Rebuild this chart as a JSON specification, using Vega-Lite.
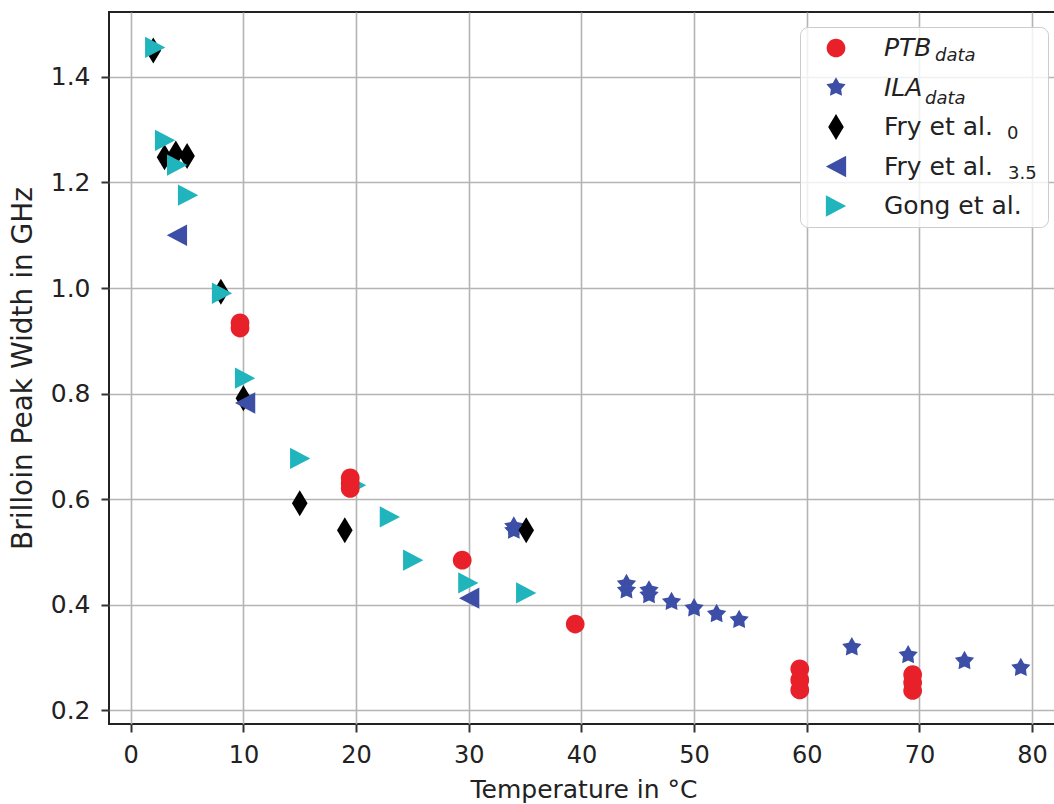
{
  "$schema": "https://vega.github.io/schema/vega-lite/v6.json",
  "width": 949,
  "height": 712,
  "autosize": {"type": "none"},
  "padding": {"left": 109, "top": 12, "right": 0, "bottom": 80},
  "background": "white",
  "config": {
    "font": "DejaVu Sans",
    "view": {"stroke": "#222222", "strokeWidth": 2},
    "axis": {
      "domain": false,
      "grid": true,
      "gridColor": "#b4b4b4",
      "gridWidth": 1.6,
      "tickColor": "#333333",
      "tickWidth": 2,
      "tickSize": 8,
      "labelFont": "DejaVu Sans",
      "labelColor": "#222222",
      "titleFont": "DejaVu Sans",
      "titleFontWeight": "normal",
      "titleColor": "#222222"
    }
  },
  "layer": [
    {
      "data": {
        "values": [
          {"series": "ILA", "T": 34, "W": 0.548},
          {"series": "ILA", "T": 34, "W": 0.540},
          {"series": "ILA", "T": 44, "W": 0.439},
          {"series": "ILA", "T": 44, "W": 0.427},
          {"series": "ILA", "T": 46, "W": 0.427},
          {"series": "ILA", "T": 46, "W": 0.418},
          {"series": "ILA", "T": 48, "W": 0.405},
          {"series": "ILA", "T": 50, "W": 0.393},
          {"series": "ILA", "T": 52, "W": 0.382},
          {"series": "ILA", "T": 54, "W": 0.371},
          {"series": "ILA", "T": 64, "W": 0.319},
          {"series": "ILA", "T": 69, "W": 0.304},
          {"series": "ILA", "T": 74, "W": 0.293},
          {"series": "ILA", "T": 79, "W": 0.280},
          {"series": "Fry0", "T": 2, "W": 1.45},
          {"series": "Fry0", "T": 3, "W": 1.248},
          {"series": "Fry0", "T": 4, "W": 1.255},
          {"series": "Fry0", "T": 5, "W": 1.25},
          {"series": "Fry0", "T": 8, "W": 0.993},
          {"series": "Fry0", "T": 10, "W": 0.791},
          {"series": "Fry0", "T": 15, "W": 0.592},
          {"series": "Fry0", "T": 19, "W": 0.541},
          {"series": "Fry0", "T": 35.1, "W": 0.541},
          {"series": "Fry35", "T": 4.1, "W": 1.1},
          {"series": "Fry35", "T": 10.15, "W": 0.782},
          {"series": "Fry35", "T": 30.04, "W": 0.412},
          {"series": "Gong", "T": 2.17, "W": 1.456},
          {"series": "Gong", "T": 3.05, "W": 1.28},
          {"series": "Gong", "T": 4.12, "W": 1.233},
          {"series": "Gong", "T": 5.09, "W": 1.176},
          {"series": "Gong", "T": 8.1, "W": 0.99},
          {"series": "Gong", "T": 10.15, "W": 0.829},
          {"series": "Gong", "T": 15.04, "W": 0.677},
          {"series": "Gong", "T": 20.0, "W": 0.626},
          {"series": "Gong", "T": 23.0, "W": 0.566},
          {"series": "Gong", "T": 25.07, "W": 0.484},
          {"series": "Gong", "T": 29.96, "W": 0.441},
          {"series": "Gong", "T": 35.1, "W": 0.422},
          {"series": "PTB", "T": 9.7, "W": 0.934},
          {"series": "PTB", "T": 9.7, "W": 0.924},
          {"series": "PTB", "T": 19.48, "W": 0.640},
          {"series": "PTB", "T": 19.48, "W": 0.630},
          {"series": "PTB", "T": 19.48, "W": 0.620},
          {"series": "PTB", "T": 29.42, "W": 0.484},
          {"series": "PTB", "T": 39.45, "W": 0.363},
          {"series": "PTB", "T": 59.38, "W": 0.278},
          {"series": "PTB", "T": 59.38, "W": 0.257},
          {"series": "PTB", "T": 59.38, "W": 0.238},
          {"series": "PTB", "T": 69.4, "W": 0.267},
          {"series": "PTB", "T": 69.4, "W": 0.252},
          {"series": "PTB", "T": 69.4, "W": 0.237}
        ]
      },
      "mark": {"type": "point", "filled": true, "size": 676, "opacity": 1, "strokeWidth": 0},
      "encoding": {
        "x": {
          "field": "T", "type": "quantitative",
          "scale": {"domain": [-1.93, 82.3], "nice": false, "zero": false},
          "axis": {
            "values": [0, 10, 20, 30, 40, 50, 60, 70, 80],
            "format": "d",
            "labelFontSize": 24,
            "labelPadding": 11,
            "title": "Temperature in °C",
            "titleFontSize": 25,
            "titlePadding": 10
          }
        },
        "y": {
          "field": "W", "type": "quantitative",
          "scale": {"domain": [0.1735, 1.5232], "nice": false, "zero": false},
          "axis": {
            "values": [0.2, 0.4, 0.6, 0.8, 1.0, 1.2, 1.4],
            "format": ".1f",
            "labelFontSize": 25,
            "labelPadding": 11,
            "title": "Brilloin Peak Width in GHz",
            "titleFontSize": 28,
            "titlePadding": 13
          }
        },
        "color": {
          "field": "series", "type": "nominal",
          "scale": {
            "domain": ["PTB", "ILA", "Fry0", "Fry35", "Gong"],
            "range": ["#e8202a", "#3c4ea6", "#000000", "#3c4ea6", "#20b5bc"]
          },
          "legend": {
            "title": null,
            "orient": "none",
            "legendX": 691,
            "legendY": 15,
            "padding": 7,
            "clipHeight": 28,
            "rowPadding": 11.5,
            "symbolSize": 676,
            "symbolOffset": 16,
            "symbolStrokeWidth": 0,
            "labelOffset": 35,
            "labelFont": "DejaVu Sans",
            "labelFontSize": 25,
            "labelColor": "#222222",
            "labelLimit": 500,
            "labelExpr": "datum.value == 'PTB' ? 'PTB' : datum.value == 'ILA' ? 'ILA' : datum.value == 'Fry0' ? 'Fry et al.' : datum.value == 'Fry35' ? 'Fry et al.' : 'Gong et al.\u2002\u2005\u200d'",
            "fillColor": "rgba(255,255,255,0.8)",
            "strokeColor": "#cccccc",
            "cornerRadius": 8,
            "encoding": {
              "labels": {"fontStyle": {"value": {"expr": "datum.value == 'PTB' || datum.value == 'ILA' ? 'italic' : 'normal'"}}}
            }
          }
        },
        "shape": {
          "field": "series", "type": "nominal",
          "scale": {
            "domain": ["PTB", "ILA", "Fry0", "Fry35", "Gong"],
            "range": [
              "M-0.72,0A0.72,0.72 0 1,0 0.72,0A0.72,0.72 0 1,0 -0.72,0Z",
              "M0,-0.78L0.2469,-0.3398L0.7418,-0.241L0.3994,0.1298L0.4585,0.631L0,0.42L-0.4585,0.631L-0.3994,0.1298L-0.7418,-0.241L-0.2469,-0.3398Z",
              "M0,-1L0.6,0L0,1L-0.6,0Z",
              "M-0.78,0L0.78,-0.82L0.78,0.82Z",
              "M0.78,0L-0.78,-0.82L-0.78,0.82Z"
            ]
          },
          "legend": {
            "title": null,
            "orient": "none",
            "legendX": 691,
            "legendY": 15,
            "padding": 7,
            "clipHeight": 28,
            "rowPadding": 11.5,
            "symbolSize": 676,
            "symbolOffset": 16,
            "symbolStrokeWidth": 0,
            "labelOffset": 35,
            "labelFont": "DejaVu Sans",
            "labelFontSize": 25,
            "labelColor": "#222222",
            "labelLimit": 500,
            "labelExpr": "datum.value == 'PTB' ? 'PTB' : datum.value == 'ILA' ? 'ILA' : datum.value == 'Fry0' ? 'Fry et al.' : datum.value == 'Fry35' ? 'Fry et al.' : 'Gong et al.\u2002\u2005\u200d'",
            "fillColor": "rgba(255,255,255,0.8)",
            "strokeColor": "#cccccc",
            "cornerRadius": 8,
            "encoding": {
              "labels": {"fontStyle": {"value": {"expr": "datum.value == 'PTB' || datum.value == 'ILA' ? 'italic' : 'normal'"}}}
            }
          }
        }
      }
    },
    {
      "data": {
        "values": [
          {"sub": "p"},
          {"sub": "i"},
          {"sub": "f0"},
          {"sub": "f35"},
          {"sub": "g"}
        ]
      },
      "mark": {"type": "point", "opacity": 0, "filled": true},
      "encoding": {
        "size": {
          "field": "sub", "type": "ordinal",
          "scale": {"domain": ["p", "i", "f0", "f35", "g"], "range": [676, 676, 676, 676, 676]},
          "legend": {
            "title": null,
            "orient": "none",
            "legendX": 691,
            "legendY": 15,
            "padding": 7,
            "clipHeight": 28,
            "rowPadding": 11.5,
            "symbolOpacity": 0,
            "symbolStrokeWidth": 0,
            "symbolOffset": 16,
            "labelOffset": 35,
            "labelFont": "DejaVu Sans",
            "labelFontSize": 18,
            "labelColor": "#222222",
            "labelLimit": 500,
            "labelExpr": "datum.value == 'p' || datum.value == 'i' ? 'data' : datum.value == 'f0' ? '0' : datum.value == 'f35' ? '3.5' : ''",
            "encoding": {
              "labels": {
                "fontStyle": {"value": {"expr": "datum.value == 'p' || datum.value == 'i' ? 'italic' : 'normal'"}},
                "dx": {"value": {"expr": "datum.value == 'p' ? 51 : datum.value == 'i' ? 41 : datum.value == 'f0' ? 123 : 124"}},
                "dy": {"value": {"expr": "datum.value == 'p' || datum.value == 'i' ? 8 : 1"}}
              }
            }
          }
        }
      }
    }
  ]
}
